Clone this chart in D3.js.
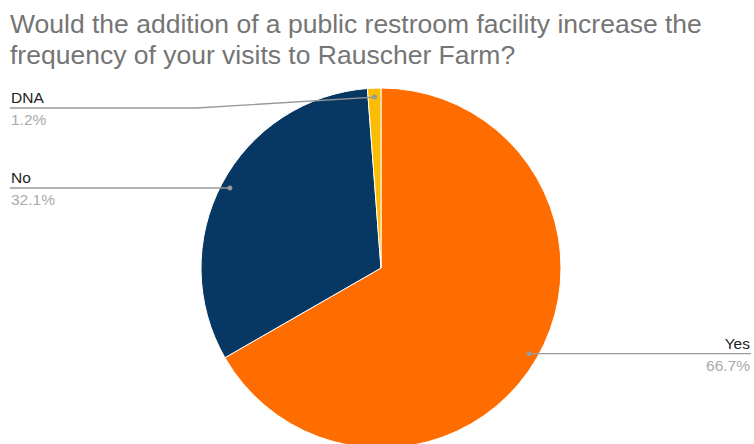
<!DOCTYPE html>
<html>
<head>
<meta charset="utf-8">
<script src="https://cdn.jsdelivr.net/npm/d3@7"></script>
<style>
  html, body { margin: 0; padding: 0; background: #fff; }
  svg { display: block; font-family: "Liberation Sans", Arial, sans-serif; }
</style>
</head>
<body>
<svg id="chart" width="754" height="444"></svg>
<script>
// Survey answers and their shares (percent)
const categories = ["Yes", "No", "DNA"];
const values = [66.7, 32.1, 1.2];
const colors = ["#ff6d01", "#073763", "#fbbc04"];
const titleLines = [
  "Would the addition of a public restroom facility increase the",
  "frequency of your visits to Rauscher Farm?"
];

const W = 754, H = 444;
const cx = 381, cy = 268, radius = 180;
const svg = d3.select("#chart");

// Title
svg.append("g").selectAll("text")
  .data(titleLines)
  .join("text")
  .attr("x", 10)
  .attr("y", (d, i) => 33 + i * 31)
  .attr("fill", "#757575")
  .attr("font-size", 26.5)
  .text(d => d);

const data = categories.map((c, i) => ({ name: c, value: values[i], color: colors[i] }));

const pie = d3.pie().sort(null).value(d => d.value);
const arcs = pie(data);
const arc = d3.arc().innerRadius(0).outerRadius(radius);
const dotArc = d3.arc().innerRadius(radius * 0.95).outerRadius(radius * 0.95);

const g = svg.append("g").attr("transform", `translate(${cx},${cy})`);

g.selectAll("path")
  .data(arcs)
  .join("path")
  .attr("d", arc)
  .attr("fill", d => d.data.color)
  .attr("stroke", "#fff")
  .attr("stroke-width", 1);

// Leader lines and labels
const leftX = 10, rightX = 751, minLabelY = 108;
const labels = svg.append("g");

arcs.forEach(d => {
  const [dx, dy] = dotArc.centroid(d);
  const px = cx + dx, py = cy + dy;
  const mid = (d.startAngle + d.endAngle) / 2;
  const right = Math.sin(mid) > 0;
  const ly = Math.max(py, minLabelY);
  const endX = right ? rightX : leftX;
  let pts;
  if (ly !== py) {
    const elbowX = right ? px + 178 : px - 178;
    pts = [[px, py], [elbowX, ly], [endX, ly]];
  } else {
    pts = [[px, py], [endX, ly]];
  }
  labels.append("path")
    .attr("d", d3.line()(pts))
    .attr("fill", "none")
    .attr("stroke", "#999")
    .attr("stroke-width", 1.3);
  labels.append("circle")
    .attr("cx", px).attr("cy", py).attr("r", 2.5)
    .attr("fill", "#999");
  const anchor = right ? "end" : "start";
  const tx = right ? rightX - 1 : leftX + 1;
  labels.append("text")
    .attr("x", tx).attr("y", ly - 5)
    .attr("text-anchor", anchor)
    .attr("font-size", 15.5)
    .attr("fill", "#222")
    .text(d.data.name);
  labels.append("text")
    .attr("x", tx).attr("y", ly + 17)
    .attr("text-anchor", anchor)
    .attr("font-size", 15.5)
    .attr("fill", "#aaa")
    .text(d.data.value.toFixed(1) + "%");
});
</script>
</body>
</html>
